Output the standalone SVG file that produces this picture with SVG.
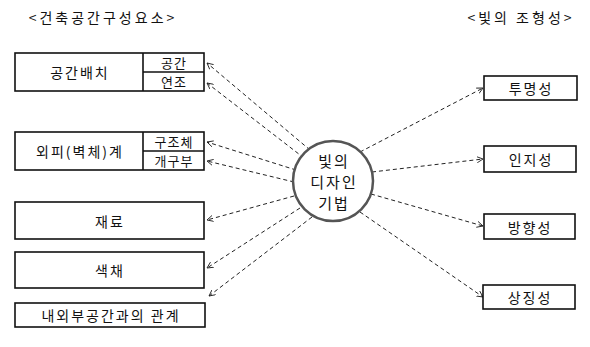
<svg xmlns="http://www.w3.org/2000/svg" width="590" height="347" viewBox="0 0 590 347">
  <style>
    .box { fill: #fff; stroke: #111; stroke-width: 1.6; }
    .t { font-family: "Noto Sans CJK KR", "Noto Sans", sans-serif; font-size: 14px; fill: #111; text-anchor: middle; dominant-baseline: central; letter-spacing: 2px; }
    .sub { font-size: 13px; letter-spacing: 1px; }
    .title { font-size: 14px; letter-spacing: 3px; }
    .mid { font-size: 15px; letter-spacing: 2px; }
    .link { stroke: #222; stroke-width: 1; fill: none; stroke-dasharray: 4 3; marker-end: url(#arrow); }
  </style>
  <defs>
    <marker id="arrow" viewBox="0 0 8 8" refX="7" refY="4" markerWidth="7" markerHeight="7" orient="auto" markerUnits="userSpaceOnUse">
      <path d="M0,0.5 L7,4 L0,7.5" fill="none" stroke="#222" stroke-width="1"/>
    </marker>
  </defs>

  <text class="t title" x="103" y="17">&lt;건축공간구성요소&gt;</text>
  <text class="t title" x="521" y="17">&lt;빛의 조형성&gt;</text>

  <g id="connectors">
    <line class="link" x1="310" y1="150" x2="207" y2="63"/>
    <line class="link" x1="304" y1="158" x2="207" y2="83"/>
    <line class="link" x1="296" y1="170" x2="207" y2="142"/>
    <line class="link" x1="294" y1="182" x2="207" y2="161"/>
    <line class="link" x1="294" y1="196" x2="207" y2="220"/>
    <line class="link" x1="300" y1="208" x2="207" y2="268"/>
    <line class="link" x1="312" y1="217" x2="209" y2="296"/>
    <line class="link" x1="360" y1="152" x2="483" y2="88"/>
    <line class="link" x1="372" y1="172" x2="483" y2="159"/>
    <line class="link" x1="371" y1="194" x2="483" y2="226"/>
    <line class="link" x1="360" y1="212" x2="483" y2="297"/>
  </g>

  <g id="node-space">
    <rect class="box" x="15" y="53" width="189" height="38"/>
    <line class="box" x1="143" y1="53" x2="143" y2="91"/>
    <line class="box" x1="143" y1="72" x2="204" y2="72"/>
    <text class="t" x="80" y="72">공간배치</text>
    <text class="t sub" x="174" y="62.5">공간</text>
    <text class="t sub" x="174" y="81.5">연조</text>
  </g>

  <g id="node-envelope">
    <rect class="box" x="15" y="132" width="189" height="38"/>
    <line class="box" x1="143" y1="132" x2="143" y2="170"/>
    <line class="box" x1="143" y1="151" x2="204" y2="151"/>
    <text class="t" x="80" y="151">외피(벽체)계</text>
    <text class="t sub" x="174" y="141.5">구조체</text>
    <text class="t sub" x="174" y="160.5">개구부</text>
  </g>

  <g id="node-material">
    <rect class="box" x="15" y="202" width="189" height="37"/>
    <text class="t" x="110" y="220.5">재료</text>
  </g>

  <g id="node-colour">
    <rect class="box" x="15" y="252" width="189" height="36"/>
    <text class="t" x="110" y="270">색채</text>
  </g>

  <g id="node-relation">
    <rect class="box" x="15" y="303" width="190" height="24"/>
    <text class="t" x="111" y="315">내외부공간과의 관계</text>
  </g>

  <g id="node-centre">
    <circle cx="333" cy="181" r="40" fill="#fff" stroke="#555" stroke-width="2.5"/>
    <text class="t mid" x="334" y="160">빛의</text>
    <text class="t mid" x="334" y="181">디자인</text>
    <text class="t mid" x="334" y="202">기법</text>
  </g>

  <g id="node-transparency">
    <rect class="box" x="484" y="76" width="93" height="24"/>
    <text class="t" x="531" y="88">투명성</text>
  </g>
  <g id="node-recognition">
    <rect class="box" x="484" y="146" width="92" height="26"/>
    <text class="t" x="531" y="159">인지성</text>
  </g>
  <g id="node-direction">
    <rect class="box" x="484" y="214" width="91" height="25"/>
    <text class="t" x="530" y="226.5">방향성</text>
  </g>
  <g id="node-symbolism">
    <rect class="box" x="483" y="285" width="92" height="24"/>
    <text class="t" x="530" y="297">상징성</text>
  </g>
</svg>
